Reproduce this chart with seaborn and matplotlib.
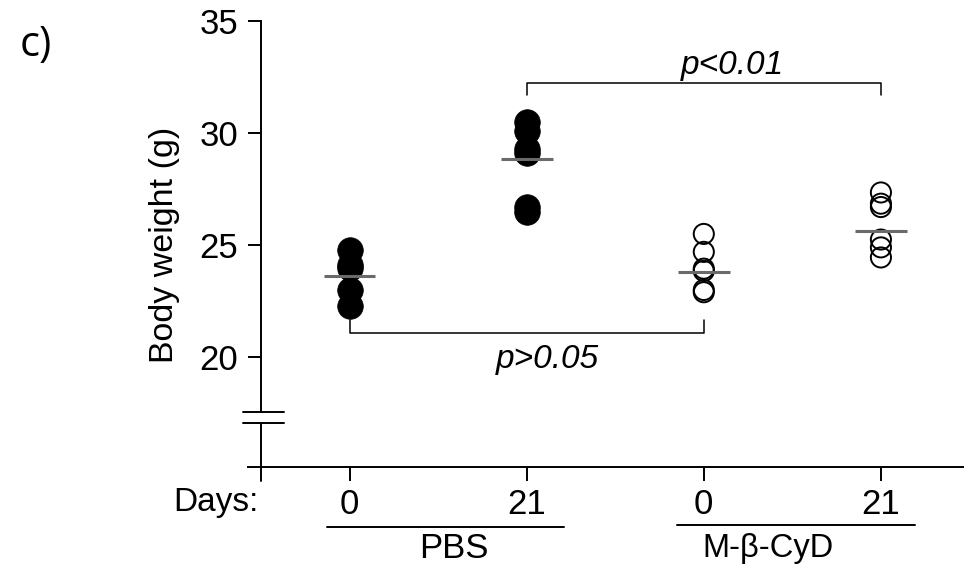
import pandas as pd
import seaborn as sns
from matplotlib import pyplot as plt

# body weight (g)
pbs_d0 = [24.8, 24.1, 24.0, 23.0, 22.3]
pbs_d21 = [30.5, 30.1, 29.3, 29.1, 26.7, 26.5]
cyd_d0 = [25.5, 24.7, 23.95, 23.85, 23.0, 22.9]
cyd_d21 = [27.35, 26.85, 26.7, 25.25, 24.9, 24.45]
group_means = [23.63, 28.85, 23.81, 25.65]
day_labels = ['0', '21', '0', '21']
treatments = ['PBS', 'M-β-CyD']

sns.set_style('white')
plt.rcParams['font.family'] = ['Liberation Sans', 'DejaVu Sans']
plt.rcParams['text.color'] = 'black'
plt.rcParams['axes.labelcolor'] = 'black'
plt.rcParams['xtick.color'] = 'black'
plt.rcParams['ytick.color'] = 'black'

rows = []
for pos, (vals, treat) in enumerate([(pbs_d0, 'PBS'), (pbs_d21, 'PBS'),
                                      (cyd_d0, 'M-β-CyD'), (cyd_d21, 'M-β-CyD')]):
    for v in vals:
        rows.append({'pos': pos, 'weight': v, 'treatment': treat})
df = pd.DataFrame(rows)

fig = plt.figure(figsize=(9.64, 5.73), dpi=100)
ax = fig.add_axes([0.2573, 0.1614, 0.7427, 0.802])

sns.scatterplot(data=df[df.treatment == 'PBS'], x='pos', y='weight', ax=ax,
                s=340, color='black', edgecolor='black', linewidth=0.5, zorder=3)
sns.scatterplot(data=df[df.treatment == 'M-β-CyD'], x='pos', y='weight', ax=ax,
                s=210, facecolor='none', edgecolor='black', linewidth=1.4, zorder=3)

# mean bars
for pos, m in enumerate(group_means):
    ax.hlines(m, pos - 0.146, pos + 0.146, color='#6a6a6a', lw=2.2, zorder=4)

ax.set_xlim(-0.573, 3.469)
ax.set_ylim(14.5, 35)

# axes with the broken y axis
ax.spines['top'].set_visible(False)
ax.spines['right'].set_visible(False)
ax.spines['left'].set_position(('data', -0.5))
ax.spines['left'].set_bounds(17.56, 35)
ax.spines['bottom'].set_position(('data', 15.1))
for sp in ['left', 'bottom']:
    ax.spines[sp].set_linewidth(1.4)
    ax.spines[sp].set_color('black')
ax.plot([-0.5, -0.5], [14.5, 17.07], color='black', lw=1.4, clip_on=False)
for yb in [17.56, 17.07]:
    ax.plot([-0.60, -0.37], [yb, yb], color='black', lw=1.4, clip_on=False)

ax.set_yticks([20, 25, 30, 35])
ax.set_xticks(range(4))
ax.set_xticklabels(day_labels)
ax.tick_params(axis='y', direction='out', length=9.4, width=1.4, pad=7,
               labelsize=25, left=True)
ax.tick_params(axis='x', direction='out', length=10, width=1.4, pad=5,
               labelsize=25, bottom=True)
ax.set_xlabel('')
ax.set_ylabel('Body weight (g)', fontsize=24.5)
ax.yaxis.set_label_coords(-0.095, 0.512)

# significance brackets
ax.plot([0, 0, 2, 2], [21.67, 21.08, 21.08, 21.67], color='black', lw=1.1)
ax.text(1.12, 19.9, 'p>0.05', style='italic', fontsize=24, ha='center', va='center')
ax.plot([1, 1, 3, 3], [31.7, 32.25, 32.25, 31.7], color='black', lw=1.1)
ax.text(2.16, 33.0, 'p<0.01', style='italic', fontsize=24, ha='center', va='center')

# group annotations under the x axis
tr = ax.get_xaxis_transform()
ax.plot([-0.13, 1.21], [-0.101, -0.101], color='black', lw=1.4, transform=tr, clip_on=False)
ax.plot([1.85, 3.19], [-0.097, -0.097], color='black', lw=1.4, transform=tr, clip_on=False)
ax.text(0.59, -0.147, treatments[0], transform=tr, fontsize=25, ha='center', va='center')
ax.text(2.36, -0.147, treatments[1], transform=tr, fontsize=23.5, ha='center', va='center')

fig.text(258 / 964, 1 - 502 / 573, 'Days:', fontsize=24, ha='right', va='center')
fig.text(20 / 964, 1 - 45 / 573, 'c)', fontsize=30, ha='left', va='center',
         family=['Open Sans', 'DejaVu Sans'])

fig.savefig('out.png', dpi=100)
